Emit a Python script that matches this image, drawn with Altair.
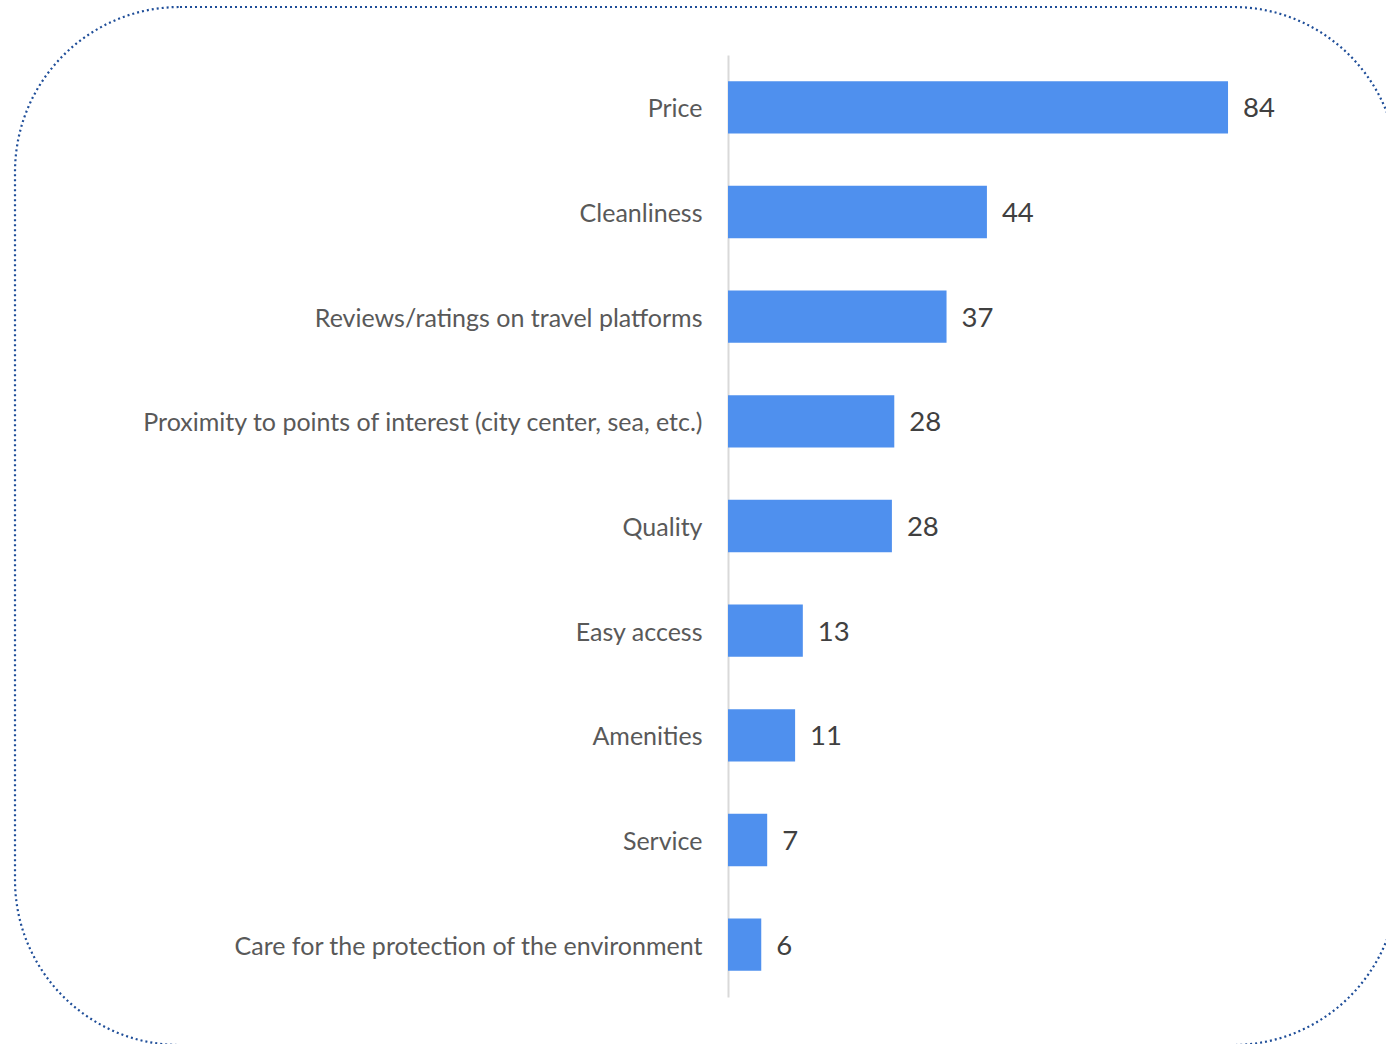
import altair as alt
import pandas as pd

categories = [
    "Price",
    "Cleanliness",
    "Reviews/ratings on travel platforms",
    "Proximity to points of interest (city center, sea, etc.)",
    "Quality",
    "Easy access",
    "Amenities",
    "Service",
    "Care for the protection of the environment",
]
values = [84.2, 43.6, 36.8, 28.0, 27.6, 12.6, 11.3, 6.6, 5.6]
shown = ["84", "44", "37", "28", "28", "13", "11", "7", "6"]

df = pd.DataFrame({"category": categories, "value": values, "shown": shown})

y_enc = alt.Y(
    "category:N",
    sort=categories,
    scale=alt.Scale(paddingInner=0.5, paddingOuter=0.25),
    axis=alt.Axis(
        title=None,
        ticks=False,
        grid=False,
        domain=True,
        domainColor="#d9d9d9",
        domainWidth=2,
        labelFont="Lato",
        labelFontSize=25,
        labelColor="#595959",
        labelPadding=26,
        labelOffset=2,
        labelLimit=700,
    ),
)
x_enc = alt.X("value:Q", scale=alt.Scale(domain=[0, 110.8]), axis=None)

base = alt.Chart(df)

bars = base.mark_bar(color="#4f90ee").encode(x=x_enc, y=y_enc)

texts = base.mark_text(
    align="left", baseline="middle", dx=15, dy=2, font="Lato", fontSize=27.5, color="#404040"
).encode(x=x_enc, y=alt.Y("category:N", sort=categories), text="shown:N")

border = alt.Chart(pd.DataFrame({"d": [0]})).mark_rect(
    fill="transparent",
    stroke="#1f4e99",
    strokeWidth=2.2,
    strokeDash=[2, 3],
    cornerRadius=165,
).encode(
    x=alt.value(-713), x2=alt.value(670), y=alt.value(-48), y2=alt.value(990)
)

chart = (
    alt.layer(border, bars, texts)
    .properties(
        width=658,
        height=942,
        autosize=alt.AutoSizeParams(type="none"),
        padding={"left": 728, "top": 55, "right": 0, "bottom": 47},
        background="white",
    )
    .configure_view(strokeWidth=0)
)

chart.save("out.html", embed_options={"renderer": "svg", "actions": False})
